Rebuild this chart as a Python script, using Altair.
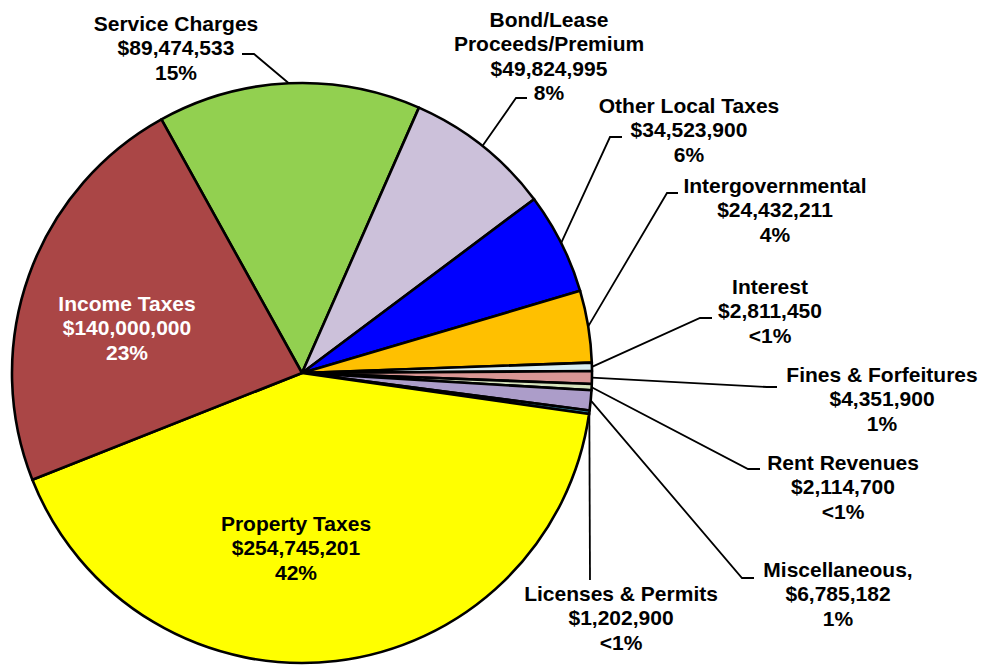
import math
import altair as alt
import pandas as pd

# ---- data ----
categories = [
    "Service Charges", "Bond/Lease\nProceeds/Premium", "Other Local Taxes",
    "Intergovernmental", "Interest", "Fines & Forfeitures", "Rent Revenues",
    "Miscellaneous,", "Licenses & Permits", "Property Taxes", "Income Taxes",
]
values = [89474533, 49824995, 34523900, 24432211, 2811450, 4351900,
          2114700, 6785182, 1202900, 254745201, 140000000]
colors = ["#92D050", "#CCC1DA", "#0000FF", "#FFC000", "#DAEEF3", "#D99694",
          "#D7E4BD", "#AC9DC9", "#31859C", "#FFFF00", "#AA4646"]

# ---- layout (pixel positions of labels / leader lines, image coords) ----
W, H = 973, 649
CX, CY, R = 302, 373, 290           # pie centre and radius (image px)
START_DEG = -29.0                   # angle where the first slice starts
label_x = [176, 549, 689, 775, 770, 882, 843, 838, 621, 296, 127]
label_y = [31, 27, 113, 193, 294, 382, 470, 577, 601, 531, 311]
label_color = ["black"] * 9 + ["black", "white"]
elbow = [(254, 54), (516, 98), (610, 137), (667, 193), (700, 318), (767, 387),
         (748, 469), (742, 578), (590, 580), None, None]
tail = [(242, 54), (527, 98), (622, 137), (678, 193), (712, 318), (777, 387),
        (760, 469), (754, 578), (590, 580), None, None]

total = sum(values)


def pct_text(v):
    p = round(100 * v / total)
    return "<1%" if p < 1 else f"{p}%"


pie_df = pd.DataFrame({
    "category": categories,
    "value": values,
    "idx": list(range(len(values))),
})

lab_df = pd.DataFrame({
    "text": [f"{c}\n${v:,}\n{pct_text(v)}" for c, v in zip(categories, values)],
    "x": label_x,
    "y": label_y,
    "col": label_color,
})

# leader lines: start at the slice's mid-angle on the pie edge
rows = []
cum = 0
for i, v in enumerate(values):
    mid = START_DEG + 360 * (cum + v / 2) / total
    cum += v
    if elbow[i] is None:
        continue
    a = math.radians(mid)
    sx, sy = CX + R * math.sin(a), CY - R * math.cos(a)
    pts = [(sx, sy), elbow[i], tail[i]]
    for k, (px, py) in enumerate(pts):
        rows.append({"key": i, "k": k, "x": px, "y": py})
line_df = pd.DataFrame(rows)

xs = alt.Scale(domain=[8, 8 + W], nice=False, zero=False)
ys = alt.Scale(domain=[8, 8 + H], nice=False, zero=False, reverse=True)

start = math.radians(START_DEG)
pie = alt.Chart(pie_df).mark_arc(
    outerRadius=R, stroke="black", strokeWidth=2.6, strokeJoin="round"
).encode(
    theta=alt.Theta("value:Q", stack=True,
                    scale=alt.Scale(range=[start, start + 2 * math.pi])),
    order=alt.Order("idx:Q", sort="ascending"),
    color=alt.Color("category:N", scale=alt.Scale(domain=categories, range=colors),
                    legend=None),
    x=alt.value(CX - 8),
    y=alt.value(CY - 8),
)

lines = alt.Chart(line_df).mark_line(color="black", strokeWidth=1.8).encode(
    x=alt.X("x:Q", scale=xs, axis=None),
    y=alt.Y("y:Q", scale=ys, axis=None),
    detail="key:N",
    order="k:Q",
)

labels = alt.Chart(lab_df).mark_text(
    font="Liberation Sans", fontWeight="bold", fontSize=21,
    align="center", baseline="alphabetic", lineBreak="\n", lineHeight=24.3,
).encode(
    x=alt.X("x:Q", scale=xs, axis=None),
    y=alt.Y("y:Q", scale=ys, axis=None),
    text="text:N",
    color=alt.Color("col:N", scale=None),
)

chart = alt.layer(lines, pie, labels).properties(
    width=W, height=H, padding=0
).configure_view(stroke=None)

chart.save("out.html", embed_options={"renderer": "svg", "actions": False})
